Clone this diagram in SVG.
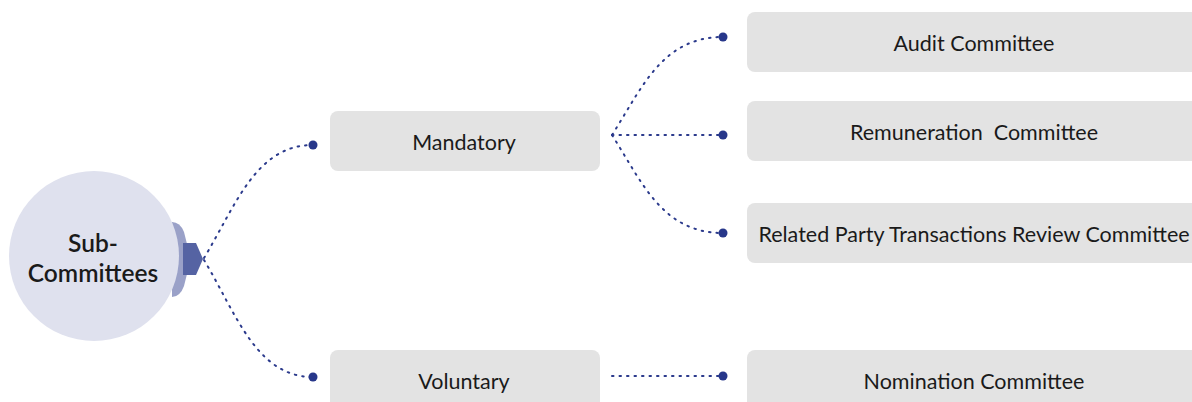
<svg xmlns="http://www.w3.org/2000/svg" width="1192" height="402" viewBox="0 0 1192 402">
<defs>
<style>
.box{fill:#e3e3e3}
.lbl{font-family:Lato,"Liberation Sans",sans-serif;font-size:21.5px;fill:#1a1a1a;text-anchor:middle;dominant-baseline:central}
.con{fill:none;stroke:#2b3a8c;stroke-width:2;stroke-dasharray:1.5 6;stroke-linecap:round}
.end{fill:#27378a}
</style>
</defs>
<rect width="1192" height="402" fill="#ffffff"/>
<g id="root">
<path d="M172,222 Q180,222 184,232 L188,248 L188,270 L184,286 Q180,297 172,297 Z" fill="#9aa1c8"/>
<path d="M183,243 L196,243 L203,259 L196,275 L183,275 Z" fill="#5563a3"/>
<circle cx="94" cy="256" r="85" fill="#dfe1ee"/>
<text class="lbl" x="93" y="242" style="font-size:24.5px;font-weight:600">Sub-</text>
<text class="lbl" x="93" y="272" style="font-size:24.5px;font-weight:600">Committees</text>
</g>
<g id="mandatory">
<rect class="box" x="330" y="111" width="270" height="60" rx="8"/>
<text class="lbl" x="464" y="142">Mandatory</text>
</g>
<g id="voluntary">
<rect class="box" x="330" y="350" width="270" height="60" rx="8"/>
<text class="lbl" x="464" y="381">Voluntary</text>
</g>
<g id="audit">
<rect class="box" x="747" y="12" width="460" height="60" rx="8"/>
<text class="lbl" x="974" y="43">Audit Committee</text>
</g>
<g id="remuneration">
<rect class="box" x="747" y="101" width="460" height="60" rx="8"/>
<text class="lbl" x="974" y="132" xml:space="preserve">Remuneration  Committee</text>
</g>
<g id="rpt">
<rect class="box" x="747" y="203" width="460" height="60" rx="8"/>
<text class="lbl" x="974" y="234">Related Party Transactions Review Committee</text>
</g>
<g id="nomination">
<rect class="box" x="747" y="350" width="460" height="60" rx="8"/>
<text class="lbl" x="974" y="381">Nomination Committee</text>
</g>
<g id="connectors">
<path class="con" d="M204,258 C236,205 256,145 313,145"/>
<path class="con" d="M204,260 C236,313 256,377 313,377"/>
<path class="con" d="M612,135 C642,88 662,37 723,37"/>
<path class="con" d="M612,135 L723,135"/>
<path class="con" d="M612,135 C642,182 662,233 723,233"/>
<path class="con" d="M612,376 L723,376"/>
<circle class="end" cx="313" cy="145" r="4.5"/>
<circle class="end" cx="313" cy="377" r="4.5"/>
<circle class="end" cx="723" cy="37" r="4.5"/>
<circle class="end" cx="723" cy="135" r="4.5"/>
<circle class="end" cx="723" cy="233" r="4.5"/>
<circle class="end" cx="723" cy="376" r="4.5"/>
</g>
</svg>
